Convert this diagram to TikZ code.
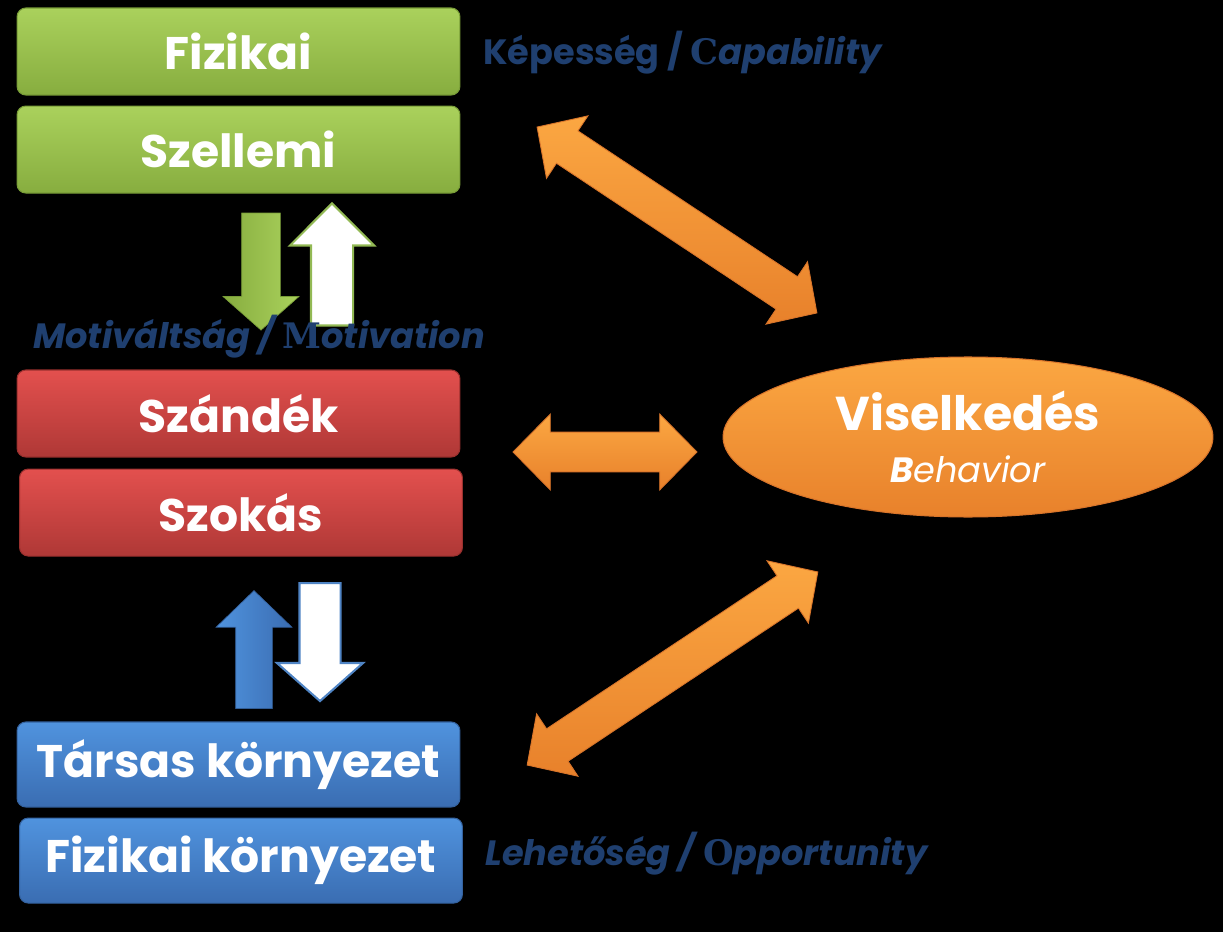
\documentclass[tikz,border=0pt]{standalone}
\usepackage{fontspec}
\setmainfont{Poppins}
\newfontfamily\initfont{DejaVu Serif}[UprightFont=* Bold]
\usetikzlibrary{positioning,shapes.geometric,shapes.arrows}

\definecolor{greenTop}{HTML}{AAD15C}
\definecolor{greenBot}{HTML}{87AD3F}
\definecolor{greenLine}{HTML}{789C37}
\definecolor{greenEdge}{HTML}{92B954}
\definecolor{redTop}{HTML}{E3504E}
\definecolor{redBot}{HTML}{AF3836}
\definecolor{redLine}{HTML}{9A302E}
\definecolor{blueTop}{HTML}{5093DE}
\definecolor{blueBot}{HTML}{3A6DB2}
\definecolor{blueLine}{HTML}{34629F}
\definecolor{blueEdge}{HTML}{4F84C4}
\definecolor{orangeTop}{HTML}{FBA742}
\definecolor{orangeBot}{HTML}{E8812B}
\definecolor{orangeLine}{HTML}{D8742A}
\definecolor{labelBlue}{HTML}{1F3F6F}

\tikzset{
  box/.style={rectangle, rounded corners=5pt, minimum width=8.86cm,
    minimum height=1.74cm, inner sep=0pt, line width=0.6pt, text=white,
    font=\fontsize{26}{30}\selectfont\bfseries},
  greenbox/.style={box, draw=greenLine, top color=greenTop, bottom color=greenBot},
  redbox/.style={box, draw=redLine, top color=redTop, bottom color=redBot},
  bluebox/.style={box, draw=blueLine, top color=blueTop, bottom color=blueBot,
    minimum height=1.70cm},
  behaviour/.style={ellipse, minimum width=9.8cm, minimum height=3.2cm,
    inner sep=0pt, draw=orangeLine, line width=0.6pt, top color=orangeTop,
    bottom color=orangeBot, text=white, align=center},
  twoway/.style={double arrow, double arrow head extend=0.36cm,
    double arrow tip angle=92, inner xsep=0pt, inner ysep=0.38cm,
    draw=orangeLine, line width=0.5pt, top color=orangeTop, bottom color=orangeBot},
  oneway/.style={single arrow, inner xsep=0pt, minimum height=2.36cm},
  tag/.style={anchor=base west, text=labelBlue, inner sep=0pt,
    font=\fontsize{20}{24}\selectfont\bfseries},
}
\newcommand{\initial}[1]{{\initfont\upshape #1}}

\begin{document}
\begin{tikzpicture}[x=0.02cm, y=-0.02cm]
% Background
\fill[black] (0,0) rectangle (1223,932);

% Capability boxes
\node[greenbox] (fizikai) at (238.5,51.5) {Fizikai};
\node[greenbox, below=0.2cm of fizikai] (szellemi) {Szellemi};

% Motivation boxes
\node[redbox] (szandek) at (238.5,413.5) {Szándék};
\node[redbox, below=0.22cm of szandek, xshift=0.05cm] (szokas) {Szokás};

% Opportunity boxes
\node[bluebox] (tarsas) at (238.5,764.5) {Társas környezet};
\node[bluebox, below=0.2cm of tarsas, xshift=0.05cm] (fizkorny) {Fizikai környezet};

% Behaviour
\node[behaviour] (viselkedes) at (968,437)
  {{\fontsize{27}{32}\selectfont\bfseries Viselkedés}\\[13pt]
   {\fontsize{20}{24}\selectfont\itshape{\bfseries B}ehavior}};

% Arrows between capability and motivation
\node[oneway, rotate=-90, minimum height=2.34cm, inner ysep=0.38cm,
  single arrow head extend=0.37cm, single arrow tip angle=97,
  draw=greenLine, left color=greenBot, right color=greenTop] (motDown) at (261,263) {};
\node[oneway, rotate=90, minimum height=2.44cm, inner ysep=0.4cm,
  single arrow head extend=0.42cm, single arrow tip angle=90,
  draw=greenEdge, line width=1.2pt, fill=white] (motUp) at (332,275) {};

% Arrows between opportunity and motivation
\node[oneway, rotate=90, inner ysep=0.36cm,
  single arrow head extend=0.39cm, single arrow tip angle=92,
  draw=blueLine, left color=blueTop, right color=blueBot] (oppUp) at (254,658.5) {};
\node[oneway, rotate=-90, inner ysep=0.39cm,
  single arrow head extend=0.45cm, single arrow tip angle=97,
  draw=blueEdge, line width=1.2pt, fill=white] (oppDown) at (320,633) {};

% Arrows to behaviour
\node[twoway, rotate=-33.6, minimum height=6.72cm] (capArrow) at (677,220) {};
\node[twoway, minimum height=3.68cm, inner ysep=0.39cm,
  double arrow tip angle=91] (motArrow) at (605,452) {};
\node[twoway, rotate=33.6, minimum height=6.98cm] (oppArrow) at (672.5,668.5) {};

% Labels
\node[tag] (capLabel) at (483,65)
  {Képesség / \initial{C}\itshape apability};
\node[tag] (motLabel) at (33,348)
  {\itshape Motiváltság / \initial{M}otivation};
\node[tag] (oppLabel) at (485,865)
  {\itshape Lehetőség / \initial{O}pportunity};
\end{tikzpicture}
\end{document}
